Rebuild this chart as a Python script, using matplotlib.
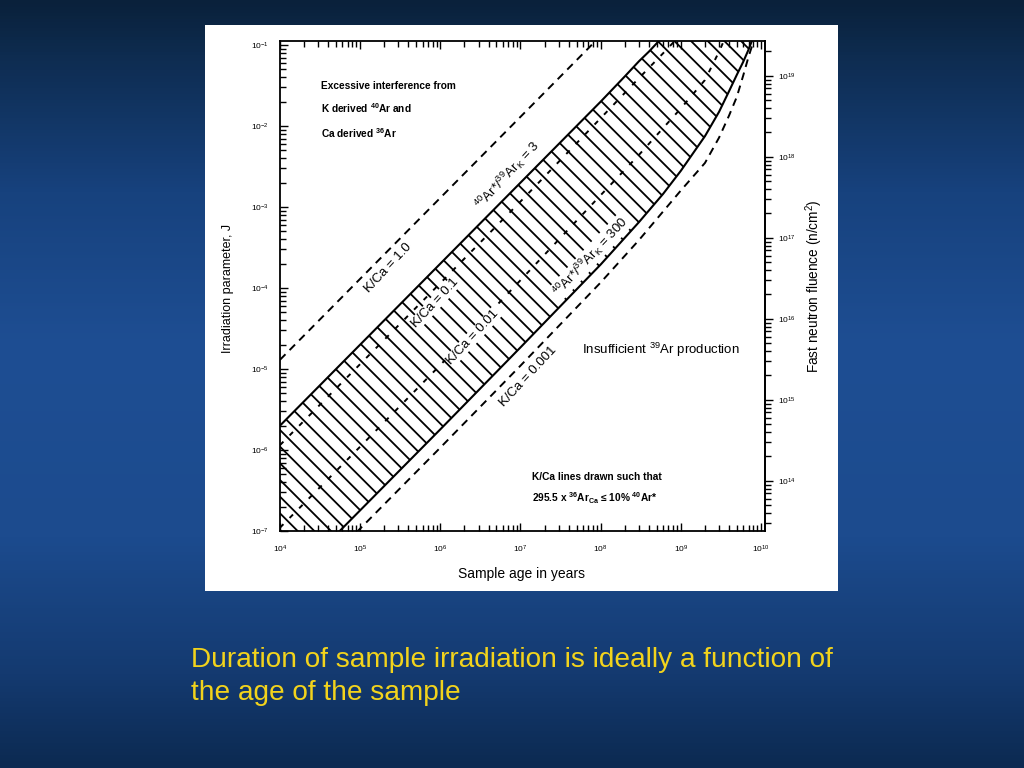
import numpy as np
import matplotlib
matplotlib.use('Agg')
import matplotlib.pyplot as plt
from matplotlib.colors import LinearSegmentedColormap
from matplotlib.patches import Rectangle
from matplotlib.ticker import LogLocator, NullFormatter, FixedLocator

plt.rcParams['font.family'] = ['Liberation Sans', 'DejaVu Sans']
plt.rcParams['mathtext.fontset'] = 'custom'
plt.rcParams['mathtext.rm'] = 'Liberation Sans'
plt.rcParams['mathtext.it'] = 'Liberation Sans:italic'
plt.rcParams['mathtext.bf'] = 'Liberation Sans:bold'
plt.rcParams['hatch.linewidth'] = 1.3

# ---------------------------------------------------------------
# values: sample age (yr) vs irradiation J
# ---------------------------------------------------------------
# 40Ar*/39ArK = 3  (upper edge of the hatched band)
age_r3 = [1e4, 1e5, 1e6, 1e7, 1e8, 2e8, 3e8, 4e8, 5e8, 6e8]
j_r3 = [2.0e-6, 2.0e-5, 2.0e-4, 2.0e-3, 2.0e-2, 4.1e-2, 6.3e-2, 8.3e-2, 0.105, 0.13]

# 40Ar*/39ArK = 300  (lower edge of the band)
age_r300 = [1e4, 1e5, 1e6, 1e7, 1e8, 3e8, 6e8, 1e9, 2e9, 3e9, 4e9, 5e9, 6e9, 7e9, 8e9]
j_r300 = [1.8e-8, 1.8e-7, 1.8e-6, 1.85e-5, 1.95e-4, 6.5e-4, 1.45e-3, 2.8e-3,
          7.5e-3, 1.5e-2, 2.7e-2, 4.3e-2, 6.2e-2, 8.8e-2, 0.125]

# K/Ca lines
age_kca1 = [1e4, 1e5, 1e6, 1e7, 1e8]
j_kca1 = [1.3e-5, 1.3e-4, 1.3e-3, 1.3e-2, 0.13]

age_kca01 = [1e4, 1e5, 1e6, 1e7, 1e8, 3e8, 6e8, 1e9]
j_kca01 = [1.15e-6, 1.15e-5, 1.15e-4, 1.17e-3, 1.25e-2, 3.9e-2, 7.9e-2, 0.135]

age_kca001 = [1e4, 1e5, 1e6, 1e7, 1e8, 3e8, 1e9, 2e9, 3e9, 3.5e9]
j_kca001 = [1.1e-7, 1.1e-6, 1.12e-5, 1.25e-4, 1.4e-3, 4.4e-3, 1.65e-2, 3.7e-2, 8.3e-2, 0.117]

age_kca0001 = [1e4, 1e5, 1e6, 1e7, 1e8, 3e8, 1e9, 2e9, 3e9, 4e9, 5e9, 6e9, 7e9, 8e9, 9e9]
j_kca0001 = [1.07e-8, 1.07e-7, 1.07e-6, 1.1e-5, 1.17e-4, 3.9e-4, 1.6e-3, 3.5e-3,
             7.2e-3, 1.35e-2, 2.3e-2, 4.2e-2, 7.2e-2, 0.108, 0.15]

# right hand axis: fast neutron fluence per unit J, and its labelled decades
FLUENCE_PER_J = 2.4e20
fluence_ticks = [1e14, 1e15, 1e16, 1e17, 1e18, 1e19]

caption = ["Duration of sample irradiation is ideally a function of",
           "the age of the sample"]

#---------------------------
# slide background
#---------------------------
fig = plt.figure(figsize=(10.24, 7.68), dpi=100)

bg_cmap = LinearSegmentedColormap.from_list(
    'slide', [(0.0, '#0a213b'), (0.07, '#0e2c50'), (0.25, '#17427e'),
              (0.45, '#1e4e93'), (0.7, '#1c4b8e'), (0.88, '#143a70'),
              (1.0, '#0c2a52')])
bg = fig.add_axes([0, 0, 1, 1], zorder=-5)
bg.imshow(np.linspace(0, 1, 256).reshape(-1, 1), aspect='auto', cmap=bg_cmap,
          extent=[0, 1, 0, 1])
bg.axis('off')

fig.patches.append(Rectangle((205/1024, 1 - 591/768), 633/1024, 566/768,
                             transform=fig.transFigure, facecolor='white',
                             edgecolor='none', zorder=-1))

#---------------------------
# main log-log plot
#---------------------------
ax = fig.add_axes([280/1024, 1 - 531/768, 485/1024, 490/768])
ax.set_xscale('log')
ax.set_yscale('log')
ax.set_xlim(1e4, 10**10.05)
ax.set_ylim(1e-7, 10**-0.95)

# hatched band between the two ratio curves
ax.fill(age_r3 + age_r300[::-1], j_r3 + j_r300[::-1], facecolor='white',
        edgecolor='black', hatch='\\\\', linewidth=0, zorder=1)
ax.plot(age_r3, j_r3, color='black', lw=1.5, zorder=3)
ax.plot(age_r300, j_r300, color='black', lw=1.5, zorder=3)

ax.plot(age_kca1, j_kca1, color='black', lw=1.4, ls=(0, (4, 3)), zorder=3)
ax.plot(age_kca0001, j_kca0001, color='black', lw=1.4, ls=(0, (4, 3)), zorder=3)
ax.plot(age_kca01, j_kca01, color='black', lw=1.4, ls=(0, (2.5, 4.5)), zorder=3)
ax.plot(age_kca001, j_kca001, color='black', lw=1.4, ls=(0, (2.5, 4.5)), zorder=3)

white = dict(facecolor='white', edgecolor='none', pad=0.6)
lab = dict(rotation=47, rotation_mode='anchor', ha='center', va='center',
           fontsize=9.5, zorder=5)
ax.text(2.22e5, 1.77e-4, 'K/Ca = 1.0', **lab)
ax.text(6.8e6, 2.48e-3, r'$^{40}$Ar*/$^{39}$Ar$_\mathrm{K}$ = 3', **lab)
ax.text(7.4e7, 2.41e-4, r'$^{40}$Ar*/$^{39}$Ar$_\mathrm{K}$ = 300', bbox=white, **lab)
ax.text(8.6e5, 6.5e-5, 'K/Ca = 0.1', bbox=white, **lab)
ax.text(2.55e6, 2.48e-5, 'K/Ca = 0.01', bbox=white, **lab)
ax.text(1.24e7, 7.96e-6, 'K/Ca = 0.001', **lab)

note = dict(transform=ax.transAxes, ha='left', va='baseline', fontsize=7.3,
            fontweight='bold')
ax.text(0.0845, 0.902, 'Excessive interference from', **note)
ax.text(0.0845, 0.853, r'K derived $^{\mathbf{40}}$Ar and', **note)
ax.text(0.0845, 0.802, r'Ca derived $^{\mathbf{36}}$Ar', **note)
ax.text(0.520, 0.104, 'K/Ca lines drawn such that', **note)
ax.text(0.520, 0.059, r'295.5 x $^{\mathbf{36}}$Ar$_{\mathbf{Ca}}$ ≤ 10% $^{\mathbf{40}}$Ar*', **note)
ax.text(0.623, 0.361, r'Insufficient $^{39}$Ar production', transform=ax.transAxes,
        ha='left', va='baseline', fontsize=9.5)

ax.xaxis.set_major_locator(LogLocator(base=10, numticks=20))
ax.xaxis.set_minor_locator(LogLocator(base=10, subs=np.arange(2, 10), numticks=20))
ax.yaxis.set_major_locator(LogLocator(base=10, numticks=20))
ax.yaxis.set_minor_locator(LogLocator(base=10, subs=np.arange(2, 10), numticks=20))
ax.xaxis.set_minor_formatter(NullFormatter())
ax.yaxis.set_minor_formatter(NullFormatter())

ax.tick_params(which='both', direction='in', top=True, right=False,
               labelsize=6, width=1)
ax.tick_params(which='major', length=6)
ax.tick_params(which='minor', length=4)
ax.tick_params(axis='x', pad=9)
ax.tick_params(axis='y', pad=8)
for sp in ax.spines.values():
    sp.set_linewidth(1.3)

ax.set_xlabel('Sample age in years', fontsize=10, va='center')
ax.xaxis.set_label_coords(0.497, -0.088)
ax.set_ylabel('Irradiation parameter, J', fontsize=9, va='center')
ax.yaxis.set_label_coords(-0.107, 0.496)

sec = ax.secondary_yaxis('right', functions=(lambda j: j * FLUENCE_PER_J,
                                             lambda f: f / FLUENCE_PER_J))
sec.yaxis.set_major_locator(FixedLocator(fluence_ticks))
sec.yaxis.set_minor_locator(LogLocator(base=10, subs=np.arange(2, 10), numticks=20))
sec.yaxis.set_minor_formatter(NullFormatter())
sec.tick_params(which='both', direction='out', labelsize=6, width=1, pad=3)
sec.tick_params(which='major', length=6)
sec.tick_params(which='minor', length=4)
sec.spines['right'].set_linewidth(1.3)
sec.set_ylabel('Fast neutron fluence (n/cm$^2$)', fontsize=9.8, labelpad=6)

#---------------------------
# slide caption
#---------------------------
fig.text(191/1024, 1 - 667/768, caption[0], color='#f2d31c', fontsize=20.2,
         ha='left', va='baseline')
fig.text(191/1024, 1 - 700/768, caption[1], color='#f2d31c', fontsize=20.2,
         ha='left', va='baseline')

fig.savefig('out.png', dpi=100)
